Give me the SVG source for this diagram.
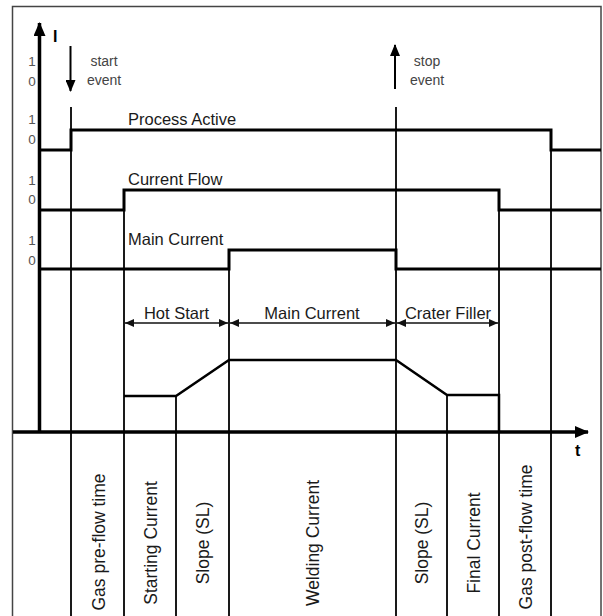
<svg xmlns="http://www.w3.org/2000/svg" width="603" height="616" viewBox="0 0 603 616">
<style>
.grid{stroke:#1a1a1a;stroke-width:2;fill:none}
.sig{stroke:#000;stroke-width:3;fill:none}
.prof{stroke:#000;stroke-width:2.5;fill:none;stroke-linejoin:miter}
.dim{stroke:#111;stroke-width:1.5;fill:none}
.lbl{font-family:"Liberation Sans",Arial,sans-serif;font-size:16.5px;fill:#1a1a1a}
.rot{font-family:"Liberation Sans",Arial,sans-serif;font-size:17.5px;fill:#1a1a1a;text-anchor:middle}
.small{font-family:"Liberation Sans",Arial,sans-serif;font-size:13.5px;fill:#555;text-anchor:middle}
.ev{font-family:"Liberation Sans",Arial,sans-serif;font-size:14px;fill:#444;text-anchor:middle}
.bold{font-family:"Liberation Sans",Arial,sans-serif;font-size:16px;font-weight:bold;fill:#000}
</style>
<defs>
<marker id="dimArrow" markerWidth="10" markerHeight="8" refX="9" refY="4" orient="auto-start-reverse" markerUnits="userSpaceOnUse">
<path d="M0,0 L9,4 L0,8 Z" fill="#111"/>
</marker>
<marker id="axArrow" markerWidth="14" markerHeight="12" refX="13" refY="6" orient="auto" markerUnits="userSpaceOnUse">
<path d="M0,0 L14,6 L0,12 Z" fill="#000"/>
</marker>
<marker id="evArrow" markerWidth="12" markerHeight="10" refX="11" refY="5" orient="auto" markerUnits="userSpaceOnUse">
<path d="M0,0 L12,5 L0,10 Z" fill="#000"/>
</marker>
</defs>
<rect x="0" y="0" width="603" height="616" fill="#fff"/>
<g id="frame">
<rect x="12.5" y="6.5" width="588.5" height="620" fill="none" stroke="#444" stroke-width="1.5"/>
</g>
<g id="connectors">
<path class="grid" d="M71,107 V616"/>
<path class="grid" d="M124,190 V616"/>
<path class="grid" d="M176,396 V616"/>
<path class="grid" d="M229,250 V616"/>
<path class="grid" d="M396,107 V616"/>
<path class="grid" d="M447,395 V616"/>
<path class="grid" d="M499,190 V616"/>
<path class="grid" d="M551,130 V616"/>
<path class="dim" d="M125,323 H228" marker-start="url(#dimArrow)" marker-end="url(#dimArrow)"/>
<path class="dim" d="M230,323 H395" marker-start="url(#dimArrow)" marker-end="url(#dimArrow)"/>
<path class="dim" d="M397,323 H498" marker-start="url(#dimArrow)" marker-end="url(#dimArrow)"/>
<path d="M70.5,46 V91" stroke="#000" stroke-width="2" marker-end="url(#evArrow)"/>
<path d="M395,89 V45" stroke="#000" stroke-width="2" marker-end="url(#evArrow)"/>
</g>
<g id="axes">
<path d="M39.5,432 V23" stroke="#000" stroke-width="3.5" marker-end="url(#axArrow)"/>
<path d="M13,432 H588" stroke="#000" stroke-width="3.5" marker-end="url(#axArrow)"/>
<text class="bold" x="53" y="42">I</text>
<text class="bold" x="575" y="456">t</text>
</g>
<g id="scale-labels">
<text class="small" x="32" y="66">1</text>
<text class="small" x="32" y="86">0</text>
<text class="small" x="32" y="124">1</text>
<text class="small" x="32" y="144">0</text>
<text class="small" x="32" y="185">1</text>
<text class="small" x="32" y="204">0</text>
<text class="small" x="32" y="245">1</text>
<text class="small" x="32" y="265">0</text>
</g>
<g id="start-event">
<text class="ev" x="104" y="66">start</text>
<text class="ev" x="104" y="85">event</text>
</g>
<g id="stop-event">
<text class="ev" x="427" y="66">stop</text>
<text class="ev" x="427" y="85">event</text>
</g>
<g id="process-active">
<path class="sig" d="M39,150 H71 V130 H551 V150 H601"/>
<text class="lbl" x="128" y="125">Process Active</text>
</g>
<g id="current-flow">
<path class="sig" d="M39,210 H124 V190 H499 V210 H601"/>
<text class="lbl" x="128" y="185">Current Flow</text>
</g>
<g id="main-current">
<path class="sig" d="M39,269 H229 V250 H396 V269 H601"/>
<text class="lbl" x="128" y="245">Main Current</text>
</g>
<g id="current-profile">
<path class="prof" d="M124,396 H176 L229,360 H396 L447,395 H499 V432"/>
</g>
<g id="phases">
<text class="lbl" x="176.5" y="319" text-anchor="middle">Hot Start</text>
<text class="lbl" x="312" y="319" text-anchor="middle">Main Current</text>
<text class="lbl" x="448" y="319" text-anchor="middle">Crater Filler</text>
</g>
<g id="segments">
<text class="rot" transform="translate(105,542) rotate(-90)">Gas pre-flow time</text>
<text class="rot" transform="translate(157,543) rotate(-90)">Starting Current</text>
<text class="rot" transform="translate(208.5,543) rotate(-90)">Slope (SL)</text>
<text class="rot" transform="translate(318.5,543) rotate(-90)">Welding Current</text>
<text class="rot" transform="translate(428,543) rotate(-90)">Slope (SL)</text>
<text class="rot" transform="translate(479.5,543) rotate(-90)">Final Current</text>
<text class="rot" transform="translate(532,537) rotate(-90)">Gas post-flow time</text>
</g>
</svg>
